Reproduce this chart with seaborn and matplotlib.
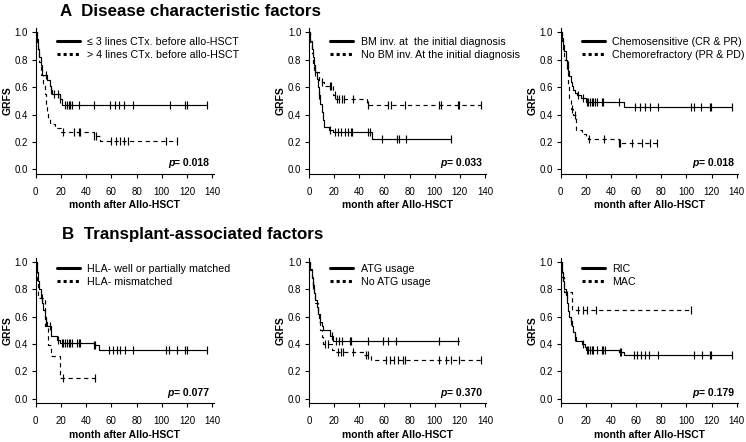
import numpy as np
import matplotlib
matplotlib.use("Agg")
import matplotlib.pyplot as plt
from matplotlib.lines import Line2D
import seaborn as sns


# ---- values: step times (month), GRFS after each step, censor times ----

# A-1: lines of chemotherapy before allo-HSCT
a1_solid_t = [0, 1, 2, 3, 4, 5, 9, 11, 12, 13, 19, 21, 136]
a1_solid_s = [1.0, 0.95, 0.88, 0.82, 0.76, 0.69, 0.65, 0.61, 0.58, 0.55, 0.51, 0.47, 0.47]
a1_solid_c = [8, 12, 14.5, 18, 19.3, 23, 24.5, 26, 27, 28.5, 34, 46, 59, 63, 66, 70, 77, 106.5, 118.7, 119.7, 135.6]
a1_dash_t = [0, 1, 2, 3, 4, 6, 7, 8, 9, 10, 11, 15, 20, 46, 51, 112]
a1_dash_s = [1.0, 0.93, 0.86, 0.78, 0.69, 0.62, 0.55, 0.48, 0.42, 0.37, 0.33, 0.30, 0.27, 0.24, 0.21, 0.21]
a1_dash_c = [22, 30, 34, 35, 46.5, 48, 60, 64, 67, 70, 73.5, 103, 112]

# A-2: BM involvement at the initial diagnosis
a2_solid_t = [0, 1, 2, 3, 4, 5, 6, 7, 8, 9, 10, 11, 12, 16, 19, 50, 113]
a2_solid_s = [1.0, 0.94, 0.88, 0.82, 0.76, 0.71, 0.66, 0.60, 0.54, 0.48, 0.42, 0.36, 0.31, 0.29, 0.27, 0.22, 0.22]
a2_solid_c = [8, 16.5, 20.5, 23, 25.7, 28.4, 31, 33.7, 34.5, 47, 48.3, 58, 70.3, 71.3, 77, 113]
a2_dash_t = [0, 1, 2, 3, 4, 8, 12, 19, 21, 46, 137]
a2_dash_s = [1.0, 0.93, 0.85, 0.77, 0.71, 0.64, 0.61, 0.54, 0.51, 0.47, 0.47]
a2_dash_c = [4.5, 10.5, 16.4, 17.7, 20.4, 22, 24, 26, 27.5, 35, 47, 63, 65.5, 76.5, 103.6, 104.7, 118.8, 119.6, 137]

# A-3: chemosensitivity
a3_solid_t = [0, 1, 2, 3, 4, 5, 6, 7, 8, 9, 10, 11, 13, 16, 20, 50, 136]
a3_solid_s = [1.0, 0.96, 0.91, 0.86, 0.80, 0.76, 0.72, 0.68, 0.64, 0.61, 0.58, 0.56, 0.545, 0.52, 0.49, 0.455, 0.455]
a3_solid_c = [5.5, 13.5, 18, 20.7, 22, 23.3, 24.6, 26, 27.3, 28.6, 32.6, 33.9, 46.5, 59, 63, 67, 71, 77.7,
              104, 106.3, 112, 118.8, 119.6, 136]
a3_dash_t = [0, 1, 2, 3, 5, 6, 7, 8, 10, 12, 17, 20, 22, 46, 77]
a3_dash_s = [1.0, 0.94, 0.87, 0.80, 0.72, 0.62, 0.52, 0.44, 0.40, 0.29, 0.26, 0.24, 0.22, 0.19, 0.19]
a3_dash_c = [8.6, 11, 22.5, 34.7, 46.5, 47.5, 56.5, 65, 71, 76.4]

# B-1: HLA matching
b1_solid_t = [0, 1, 2, 3, 4, 5, 6, 7, 8, 9, 12, 17, 19, 46, 50, 136]
b1_solid_s = [1.0, 0.93, 0.86, 0.80, 0.74, 0.70, 0.65, 0.60, 0.56, 0.53, 0.46, 0.43, 0.41, 0.39, 0.36, 0.36]
b1_solid_c = [8.2, 11.1, 18, 20.6, 22, 23.3, 24.6, 26, 27.3, 28.6, 33, 34, 35.2, 46.3, 47.1, 58, 61, 64.3, 67,
              71, 77.5, 103.5, 105.4, 112, 118.7, 120, 135.8]
b1_dash_t = [0, 1, 2, 7, 10, 12, 19, 47]
b1_dash_s = [1.0, 0.87, 0.74, 0.53, 0.39, 0.31, 0.155, 0.155]
b1_dash_c = [4.7, 22, 47]

# B-2: ATG usage
b2_solid_t = [0, 1, 2, 3, 4, 5, 6, 7, 9, 10, 11, 17, 19, 119]
b2_solid_s = [1.0, 0.95, 0.89, 0.83, 0.77, 0.72, 0.67, 0.62, 0.56, 0.53, 0.50, 0.46, 0.42, 0.42]
b2_solid_c = [3.4, 18, 21.7, 23.9, 26.5, 32.4, 33.7, 47, 59, 63, 69, 103.4, 118.5]
b2_dash_t = [0, 1, 2, 3, 4, 5, 7, 8, 9, 10, 11, 18, 20, 44, 49, 137]
b2_dash_s = [1.0, 0.94, 0.88, 0.82, 0.76, 0.70, 0.63, 0.56, 0.50, 0.45, 0.40, 0.36, 0.34, 0.32, 0.28, 0.28]
b2_dash_c = [12.5, 15, 23, 25.7, 27, 35, 45, 47, 61.5, 64.7, 68, 71, 75, 76, 103.4, 108.7, 113, 119.3, 137]

# B-3: conditioning intensity
b3_solid_t = [0, 1, 2, 3, 4, 5, 6, 7, 8, 9, 10, 11, 12, 17, 19, 20, 46, 50, 136]
b3_solid_s = [1.0, 0.93, 0.86, 0.80, 0.76, 0.70, 0.64, 0.60, 0.57, 0.53, 0.49, 0.45, 0.42, 0.40, 0.38, 0.355,
              0.34, 0.32, 0.32]
b3_solid_c = [4.7, 8.2, 11.4, 18, 20.7, 22, 23.3, 24.6, 26, 28.6, 32.6, 34, 35.2, 47, 48, 58.3, 60.4, 63.6, 67,
              70.5, 77.2, 106.3, 112.1, 118.8, 119.6, 136]
b3_dash_t = [0, 1, 3, 9, 104]
b3_dash_s = [1.0, 0.89, 0.78, 0.65, 0.65]
b3_dash_c = [2, 13.5, 18, 20.7, 27.8, 104]

legend_labels = [
    ["\u2264 3 lines CTx. before allo-HSCT", "> 4 lines CTx. before allo-HSCT"],
    ["BM inv. at  the initial diagnosis", "No BM inv. At the initial diagnosis"],
    ["Chemosensitive (CR & PR)", "Chemorefractory (PR & PD)"],
    ["HLA- well or partially matched", "HLA- mismatched"],
    ["ATG usage", "No ATG usage"],
    ["RIC", "MAC"],
]
p_values = ["0.018", "0.033", "0.018", "0.077", "0.370", "0.179"]
row_titles = ["A  Disease characteristic factors", "B  Transplant-associated factors"]

x_ticks = [0, 20, 40, 60, 80, 100, 120, 140]
y_ticks = [0.0, 0.2, 0.4, 0.6, 0.8, 1.0]


W, H = 746, 442


def pixelRect(left, top, right, bottom):
    return [left / W, 1 - bottom / H, (right - left) / W, (bottom - top) / H]


def survAt(times, surv, points):
    idx = np.searchsorted(times, points, side='right') - 1
    return np.asarray(surv)[idx]


def drawPanel(ax, solid, dashed, labels, pText, legendTop):
    for (t, s, c), ls in ((solid, '-'), (dashed, (0, (3.6, 3.0)))):
        sns.lineplot(x=t, y=s, drawstyle='steps-post', estimator=None, sort=False,
                     color='black', linewidth=0.85, linestyle=ls, ax=ax)
        sns.scatterplot(x=c, y=survAt(t, s, c), marker='|', s=32, color='black',
                        linewidth=0.85, ax=ax, zorder=3)

    ax.set_xlim(0, 141)
    ax.set_ylim(-0.032, 1.03)
    ax.set_xticks(x_ticks)
    ax.set_yticks(y_ticks)
    ax.set_yticklabels([f"{v:.1f}" for v in y_ticks])
    ax.tick_params(axis='both', length=3, width=0.8, labelsize=7, colors='black')
    ax.tick_params(axis='x', pad=6.5)
    ax.tick_params(axis='y', pad=2.5)
    for side in ('top', 'right'):
        ax.spines[side].set_visible(False)
    for side in ('left', 'bottom'):
        ax.spines[side].set_linewidth(0.8)
        ax.spines[side].set_color('black')

    ax.set_xlabel("month after Allo-HSCT", fontsize=7.5, fontweight='bold', labelpad=2.5)
    ax.set_ylabel("GRFS", fontsize=7.5, fontweight='bold', labelpad=1.5)

    handles = [Line2D([], [], color='black', lw=2.2),
               Line2D([], [], color='black', lw=2.2, linestyle=(0, (1, 1)))]
    ax.legend(handles, labels, loc='upper left', bbox_to_anchor=(0.118, legendTop),
              frameon=False, fontsize=7.7, borderpad=0, borderaxespad=0,
              handlelength=2.18, handletextpad=0.69, labelspacing=0.3)

    val = ax.text(137.5, 0.045, "= " + pText, ha='right', va='center',
                  fontsize=7.5, fontweight='bold')
    ax.annotate("p", xy=(0, 0.5), xycoords=val, ha='right', va='center',
                fontsize=7.5, fontweight='bold', fontstyle='italic')


sns.set_style("ticks")
plt.rcParams['font.family'] = ['Liberation Sans', 'DejaVu Sans']
plt.rcParams['text.color'] = 'black'
plt.rcParams['axes.labelcolor'] = 'black'

fig = plt.figure(figsize=(W / 100, H / 100), dpi=100)

rects = [
    pixelRect(35.7, 28.2, 213.6, 173.7),
    pixelRect(309.0, 28.2, 486.2, 173.7),
    pixelRect(560.7, 28.2, 737.9, 173.7),
    pixelRect(35.7, 257.9, 213.6, 403.1),
    pixelRect(309.0, 257.9, 486.2, 403.1),
    pixelRect(560.7, 257.9, 737.9, 403.1),
]
series = [
    ((a1_solid_t, a1_solid_s, a1_solid_c), (a1_dash_t, a1_dash_s, a1_dash_c)),
    ((a2_solid_t, a2_solid_s, a2_solid_c), (a2_dash_t, a2_dash_s, a2_dash_c)),
    ((a3_solid_t, a3_solid_s, a3_solid_c), (a3_dash_t, a3_dash_s, a3_dash_c)),
    ((b1_solid_t, b1_solid_s, b1_solid_c), (b1_dash_t, b1_dash_s, b1_dash_c)),
    ((b2_solid_t, b2_solid_s, b2_solid_c), (b2_dash_t, b2_dash_s, b2_dash_c)),
    ((b3_solid_t, b3_solid_s, b3_solid_c), (b3_dash_t, b3_dash_s, b3_dash_c)),
]
legendTops = [0.94, 0.94, 0.94, 0.96, 0.96, 0.96]

for i in range(6):
    ax = fig.add_axes(rects[i])
    drawPanel(ax, series[i][0], series[i][1], legend_labels[i], p_values[i], legendTops[i])

fig.text(60 / W, 1 - 12 / H, row_titles[0], ha='left', va='center', fontsize=12.2, fontweight='bold')
fig.text(62 / W, 1 - 234 / H, row_titles[1], ha='left', va='center', fontsize=12.2, fontweight='bold')

fig.savefig("out.png", dpi=100)
